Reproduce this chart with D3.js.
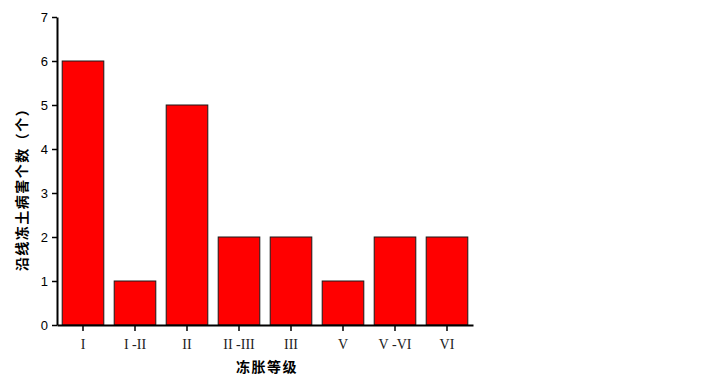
<!DOCTYPE html>
<html>
<head>
<meta charset="utf-8">
<script src="https://cdn.jsdelivr.net/npm/d3@7"></script>
<style>
  body { margin: 0; background: #fff; }
</style>
</head>
<body>
<div class="chart"></div>
<script>
// data
const grades = ["I", "I -II", "II", "II -III", "III", "V", "V -VI", "VI"]
const counts = [6, 1, 5, 2, 2, 1, 2, 2]
const yTicks = [0, 1, 2, 3, 4, 5, 6, 7]

const w = 722
const h = 375
const padL = 57, padR = 473, padT = 17, padB = 325

const svg = d3.select(".chart")
  .append("svg")
  .attr("width", w)
  .attr("height", h)
  .style("background-color", "#fff")

const xScale = d3.scaleBand()
  .domain(grades)
  .range([padL, padR])
  .paddingInner(0.2)
  .paddingOuter(0.1)

const yScale = d3.scaleLinear()
  .domain([0, 7])
  .range([padB, padT])

// bars
svg.selectAll("rect.bar")
  .data(grades)
  .enter()
  .append("rect")
  .attr("class", "bar")
  .attr("x", d => xScale(d))
  .attr("width", xScale.bandwidth())
  .attr("y", (d, i) => yScale(counts[i]))
  .attr("height", (d, i) => yScale(0) - yScale(counts[i]))
  .attr("fill", "#ff0000")
  .attr("stroke", "#1a1a1a")
  .attr("stroke-width", 1)

// x axis
const xAxis = d3.axisBottom(xScale)
  .tickSize(6)
  .tickSizeOuter(0)
const gx = svg.append("g")
  .attr("transform", "translate(0," + padB + ")")
  .call(xAxis)
gx.select(".domain").attr("stroke", "#000").attr("stroke-width", 2)
gx.selectAll(".tick line").attr("stroke", "#000").attr("stroke-width", 1.5)
gx.selectAll(".tick text")
  .attr("dy", "1.1em")
  .style("font-family", "'Liberation Serif', 'Times New Roman', serif")
  .style("font-size", "14px")
  .attr("fill", "#222")

// y axis
const yAxis = d3.axisLeft(yScale)
  .tickValues(yTicks)
  .tickFormat(d3.format("d"))
  .tickSize(5)
  .tickSizeOuter(0)
const gy = svg.append("g")
  .attr("transform", "translate(" + padL + ",0)")
  .call(yAxis)
gy.select(".domain").attr("stroke", "#000").attr("stroke-width", 2)
gy.selectAll(".tick line").attr("stroke", "#000").attr("stroke-width", 1.5)
gy.selectAll(".tick text")
  .attr("x", -9)
  .style("font-family", "'Liberation Sans', Arial, sans-serif")
  .style("font-size", "13px")
  .attr("fill", "#000")

// axis titles
svg.append("text")
  .attr("x", 267)
  .attr("y", 372)
  .attr("text-anchor", "middle")
  .style("font-family", "'Noto Sans CJK SC', sans-serif")
  .style("font-weight", "bold")
  .style("font-size", "14px")
  .style("letter-spacing", "1.5px")
  .text("冻胀等级")

svg.append("text")
  .attr("transform", "translate(27,186) rotate(-90)")
  .attr("text-anchor", "middle")
  .style("font-family", "'Noto Sans CJK SC', sans-serif")
  .style("font-weight", "bold")
  .style("font-size", "14px")
  .style("letter-spacing", "1.5px")
  .text("沿线冻土病害个数（个）")
</script>
</body>
</html>
